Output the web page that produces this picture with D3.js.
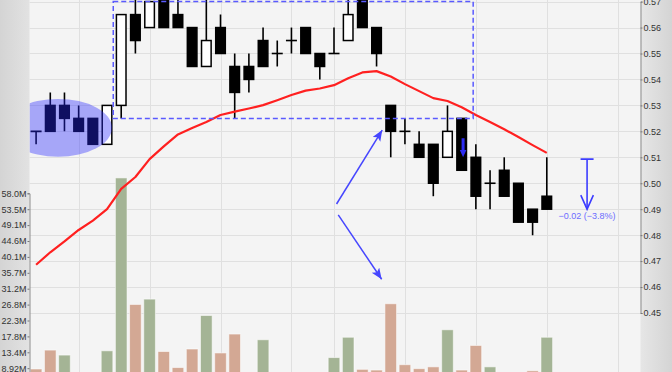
<!DOCTYPE html>
<html>
<head>
<meta charset="utf-8">
<script src="https://cdn.jsdelivr.net/npm/d3@7"></script>
<style>
    body { margin: 0; background: #f4f4f4; }
    svg { display: block; font-family: "Liberation Sans", Arial, sans-serif; }
</style>
</head>
<body>
<div class="container"></div>
<script>
// trading sessions (the chart runs a few empty sessions past the last bar)
const dates = [
    '2015-01-28', '2015-01-29', '2015-01-30', '2015-02-02', '2015-02-03', '2015-02-04', '2015-02-05',
    '2015-02-06', '2015-02-09', '2015-02-10', '2015-02-11', '2015-02-12', '2015-02-13', '2015-02-16',
    '2015-02-17', '2015-02-18', '2015-02-23', '2015-02-24', '2015-02-25', '2015-02-26', '2015-02-27',
    '2015-03-02', '2015-03-03', '2015-03-04', '2015-03-05', '2015-03-06', '2015-03-09', '2015-03-10',
    '2015-03-11', '2015-03-12', '2015-03-13', '2015-03-16', '2015-03-17', '2015-03-18', '2015-03-19',
    '2015-03-20', '2015-03-23', '2015-03-24', '2015-03-25', '2015-03-26', '2015-03-27', '2015-03-30',
    '2015-03-31'
];
const gridDates = ['2015-02-02', '2015-02-09', '2015-02-16', '2015-02-25', '2015-03-02',
    '2015-03-09', '2015-03-16', '2015-03-23', '2015-03-30'];

const open = [0.520, 0.530, 0.530, 0.525, 0.525, 0.515, 0.530, 0.565, 0.560, 0.575, 0.565, 0.560, 0.545,
    0.560, 0.545, 0.545, 0.555, 0.550, 0.555, 0.560, 0.550, 0.550, 0.555, 0.575, 0.560, 0.530, 0.520,
    0.515, 0.515, 0.510, 0.525, 0.510, 0.500, 0.505, 0.500, 0.490, 0.495];
const high = [0.520, 0.535, 0.535, 0.530, 0.525, 0.530, 0.565, 0.575, 0.570, 0.580, 0.575, 0.560, 0.575,
    0.565, 0.550, 0.550, 0.560, 0.555, 0.560, 0.560, 0.550, 0.560, 0.575, 0.580, 0.560, 0.530, 0.525,
    0.520, 0.515, 0.530, 0.525, 0.515, 0.505, 0.510, 0.500, 0.490, 0.510];
const low = [0.515, 0.520, 0.520, 0.520, 0.515, 0.515, 0.525, 0.550, 0.560, 0.560, 0.560, 0.545, 0.545,
    0.550, 0.525, 0.535, 0.545, 0.545, 0.550, 0.550, 0.540, 0.550, 0.555, 0.560, 0.545, 0.510, 0.515,
    0.510, 0.495, 0.510, 0.505, 0.490, 0.490, 0.495, 0.485, 0.480, 0.490];
const close = [0.520, 0.520, 0.525, 0.520, 0.515, 0.530, 0.565, 0.555, 0.570, 0.560, 0.560, 0.545, 0.555,
    0.550, 0.535, 0.540, 0.545, 0.550, 0.555, 0.550, 0.545, 0.550, 0.565, 0.560, 0.550, 0.520, 0.520,
    0.510, 0.500, 0.520, 0.505, 0.495, 0.500, 0.495, 0.485, 0.485, 0.490];

// volume in millions of shares
const volume = [8.7, 14.0, 12.6, 6.5, 6.0, 13.8, 62.3, 26.8, 28.3, 13.6, 9.1, 14.3, 23.7, 13.2, 18.5,
    6.5, 16.9, 5.0, 4.5, 6.0, 7.0, 11.9, 17.6, 8.6, 8.4, 27.0, 9.9, 8.8, 9.3, 19.7, 8.4, 15.3, 9.3,
    6.0, 5.5, 8.2, 17.6];

// 20 day moving average of the close
const ma20 = [0.4686, 0.4734, 0.4776, 0.4820, 0.4856, 0.4900, 0.4978, 0.5024, 0.5093, 0.5142, 0.5188,
    0.5213, 0.5236, 0.5263, 0.5276, 0.5288, 0.5301, 0.5320, 0.5340, 0.5357, 0.5365, 0.5378, 0.5405,
    0.5427, 0.5432, 0.5411, 0.5382, 0.5355, 0.5328, 0.5317, 0.5293, 0.5263, 0.5236, 0.5208, 0.5178,
    0.5147, 0.5117];

const priceTicks = [0.45, 0.46, 0.47, 0.48, 0.49, 0.50, 0.51, 0.52, 0.53, 0.54, 0.55, 0.56, 0.57];
const volTicks = [8.92, 13.38, 17.84, 22.30, 26.76, 31.22, 35.68, 40.14, 44.60, 49.06, 53.52, 57.98];
const volTickLabels = ['8.92M', '13.4M', '17.8M', '22.3M', '26.8M', '31.2M', '35.7M', '40.1M',
    '44.6M', '49.1M', '53.5M', '58.0M'];
const changeLabel = '\u22120.02 (\u22123.8%)';

const width = 672;
const height = 372;
const plotLeft = 29.5;
const plotRight = 640.5;

const svg = d3.select('.container')
    .append('svg')
    .attr('width', width)
    .attr('height', height);

const defs = svg.append('defs');

defs.append('clipPath')
    .attr('id', 'plotClip')
    .append('rect')
    .attr('x', plotLeft)
    .attr('y', 0)
    .attr('width', plotRight - plotLeft)
    .attr('height', height);

const leftGrad = defs.append('linearGradient').attr('id', 'leftGrad');
leftGrad.append('stop').attr('offset', '0%').attr('stop-color', '#d4d4d4');
leftGrad.append('stop').attr('offset', '100%').attr('stop-color', '#e2e2e2');

const rightGrad = defs.append('linearGradient').attr('id', 'rightGrad');
rightGrad.append('stop').attr('offset', '0%').attr('stop-color', '#e6e6e6');
rightGrad.append('stop').attr('offset', '100%').attr('stop-color', '#d4d4d4');

defs.append('marker')
    .attr('id', 'head')
    .attr('markerUnits', 'userSpaceOnUse')
    .attr('markerWidth', 12)
    .attr('markerHeight', 10)
    .attr('viewBox', '0 0 12 10')
    .attr('refX', 11)
    .attr('refY', 4.5)
    .attr('orient', 'auto')
    .append('path')
    .attr('d', 'M0,0 L11,4.5 L0,9 L2.5,4.5 Z')
    .attr('fill', '#4646ff');

// scales
const x = d3.scaleBand()
    .domain(dates)
    .range([29, 639])
    .paddingInner(0.18)
    .paddingOuter(0.09);

const bw = x.bandwidth();
const cx = d => x(d) + bw / 2;
// position for annotations that sit between sessions
const xAt = i => x(dates[0]) + bw / 2 + i * x.step();

const y = d3.scaleLinear()
    .domain([0.45, 0.57])
    .range([313, 1.6]);

const yVol = d3.scaleLinear()
    .domain([0, 57.98])
    .range([400, 193.3]);

const crisp = v => Math.round(v) + 0.5;

// background + grid
svg.append('rect')
    .attr('x', plotLeft)
    .attr('y', 0)
    .attr('width', plotRight - plotLeft)
    .attr('height', height)
    .attr('fill', '#f4f4f4');

const grid = svg.append('g').attr('class', 'grid');

grid.selectAll('.hgrid')
    .data(priceTicks)
    .join('line')
    .attr('x1', plotLeft)
    .attr('x2', plotRight)
    .attr('y1', d => crisp(y(d)))
    .attr('y2', d => crisp(y(d)))
    .attr('stroke', '#e0e0e0');

grid.selectAll('.vgrid')
    .data(gridDates)
    .join('line')
    .attr('x1', d => crisp(cx(d)))
    .attr('x2', d => crisp(cx(d)))
    .attr('y1', 0)
    .attr('y2', height)
    .attr('stroke', '#e0e0e0');

const mainGroup = svg.append('g')
    .attr('clip-path', 'url(#plotClip)');

const bars = dates.slice(0, close.length).map((d, i) => ({
    date: d,
    o: open[i], h: high[i], l: low[i], c: close[i],
    v: volume[i],
    up: i > 0 && close[i] > close[i - 1]
}));

// volume
mainGroup.append('g')
    .selectAll('rect')
    .data(bars)
    .join('rect')
    .attr('x', d => x(d.date))
    .attr('width', bw)
    .attr('y', d => yVol(d.v))
    .attr('height', d => yVol(0) - yVol(d.v))
    .attr('fill', d => d.up ? '#a4b495' : '#d3a894')
    .attr('stroke', 'rgba(255,255,255,0.55)')
    .attr('stroke-width', 1);

// candles
const candles = mainGroup.append('g')
    .selectAll('g')
    .data(bars)
    .join('g');

candles.append('line')
    .attr('x1', d => cx(d.date))
    .attr('x2', d => cx(d.date))
    .attr('y1', d => y(d.h))
    .attr('y2', d => y(d.l))
    .attr('stroke', '#000')
    .attr('stroke-width', 1.6);

candles.filter(d => d.o === d.c)
    .append('line')
    .attr('x1', d => cx(d.date) - 5.5)
    .attr('x2', d => cx(d.date) + 5.5)
    .attr('y1', d => y(d.o))
    .attr('y2', d => y(d.o))
    .attr('stroke', '#000')
    .attr('stroke-width', 1.6);

candles.filter(d => d.o !== d.c)
    .append('rect')
    .attr('x', d => cx(d.date) - 4.8)
    .attr('width', 9.6)
    .attr('y', d => y(Math.max(d.o, d.c)))
    .attr('height', d => Math.abs(y(d.o) - y(d.c)))
    .attr('fill', d => d.c > d.o ? '#fff' : '#000')
    .attr('stroke', '#000')
    .attr('stroke-width', 1.5);

// moving average
const line_generator = d3.line()
    .x((d, i) => cx(dates[i]))
    .y(d => y(d));

mainGroup.append('path')
    .attr('d', line_generator(ma20))
    .attr('fill', 'none')
    .attr('stroke', '#ff2020')
    .attr('stroke-width', 2.2)
    .attr('stroke-linejoin', 'round');

// drawn annotations
const notes = mainGroup.append('g').attr('class', 'notes');

notes.append('ellipse')
    .attr('cx', xAt(1.55))
    .attr('cy', y(0.52135))
    .attr('rx', 3.8 * x.step())
    .attr('ry', y(0.5102) - y(0.52135))
    .attr('fill', 'rgba(40,40,255,0.38)');

notes.append('rect')
    .attr('x', xAt(5.44))
    .attr('y', y(0.570))
    .attr('width', xAt(30.81) - xAt(5.44))
    .attr('height', y(0.525) - y(0.570))
    .attr('fill', 'none')
    .attr('stroke', '#5a5aff')
    .attr('stroke-width', 1.5)
    .attr('stroke-dasharray', '5,3');

const arrows = [
    { from: [21.18, 0.4920], to: [24.40, 0.5205] },
    { from: [21.30, 0.4878], to: [24.36, 0.4630] }
];

notes.selectAll('.arrow')
    .data(arrows)
    .join('line')
    .attr('x1', d => xAt(d.from[0]))
    .attr('y1', d => y(d.from[1]))
    .attr('x2', d => xAt(d.to[0]))
    .attr('y2', d => y(d.to[1]))
    .attr('stroke', '#4646ff')
    .attr('stroke-width', 1.5)
    .attr('marker-end', 'url(#head)');

// little down arrow on the candle
const ax = xAt(30.1);
const aTop = y(0.5173);
const aNeck = y(0.5128);
const aTip = y(0.5100);
notes.append('path')
    .attr('d', `M${ax - 1.5},${aTop} L${ax + 1.5},${aTop} L${ax + 1.5},${aNeck} L${ax + 3.3},${aNeck}
        L${ax},${aTip} L${ax - 3.3},${aNeck} L${ax - 1.5},${aNeck} Z`)
    .attr('fill', '#2b2bf0');

// price change measure
const mx = xAt(38.84);
const mTop = y(0.5093);
const mBottom = y(0.4900);
const measure = notes.append('g')
    .attr('stroke', '#3c3cff')
    .attr('stroke-width', 1.6)
    .attr('fill', 'none');

measure.append('line')
    .attr('x1', mx - 6.5).attr('x2', mx + 6.5)
    .attr('y1', mTop).attr('y2', mTop);
measure.append('line')
    .attr('x1', mx).attr('x2', mx)
    .attr('y1', mTop).attr('y2', mBottom);
measure.append('path')
    .attr('d', `M${mx - 6.3},${mBottom - 14} L${mx},${mBottom} L${mx + 6.3},${mBottom - 14}`);

notes.append('text')
    .attr('x', mx)
    .attr('y', mBottom + 10)
    .attr('text-anchor', 'middle')
    .attr('font-size', '9px')
    .attr('fill', '#6c6cff')
    .text(changeLabel);

// axis panels
svg.append('rect')
    .attr('x', 0).attr('y', 0)
    .attr('width', plotLeft).attr('height', height)
    .attr('fill', 'url(#leftGrad)');
svg.append('rect')
    .attr('x', plotRight).attr('y', 0)
    .attr('width', width - plotRight).attr('height', height)
    .attr('fill', 'url(#rightGrad)');

const yAxis = d3.axisRight(y)
    .tickValues(priceTicks)
    .tickSize(2)
    .tickPadding(1)
    .tickFormat(d3.format('.2f'));

const gYAxis = svg.append('g')
    .attr('class', 'yAxis')
    .attr('transform', `translate(${plotRight}, 0)`)
    .call(yAxis);

const volAxis = d3.axisLeft(yVol)
    .tickValues(volTicks)
    .tickSize(2)
    .tickPadding(1)
    .tickFormat((d, i) => volTickLabels[i]);

const gVolAxis = svg.append('g')
    .attr('class', 'volAxis')
    .attr('transform', `translate(${plotLeft}, 0)`)
    .call(volAxis);

[gYAxis, gVolAxis].forEach(g => {
    g.select('.domain').attr('stroke', '#8c8c8c');
    g.selectAll('.tick line').attr('stroke', '#777');
    g.selectAll('.tick text')
        .attr('fill', '#333')
        .style('font-size', '9px')
        .style('font-family', '"Liberation Sans", Arial, sans-serif');
});
</script>
</body>
</html>
